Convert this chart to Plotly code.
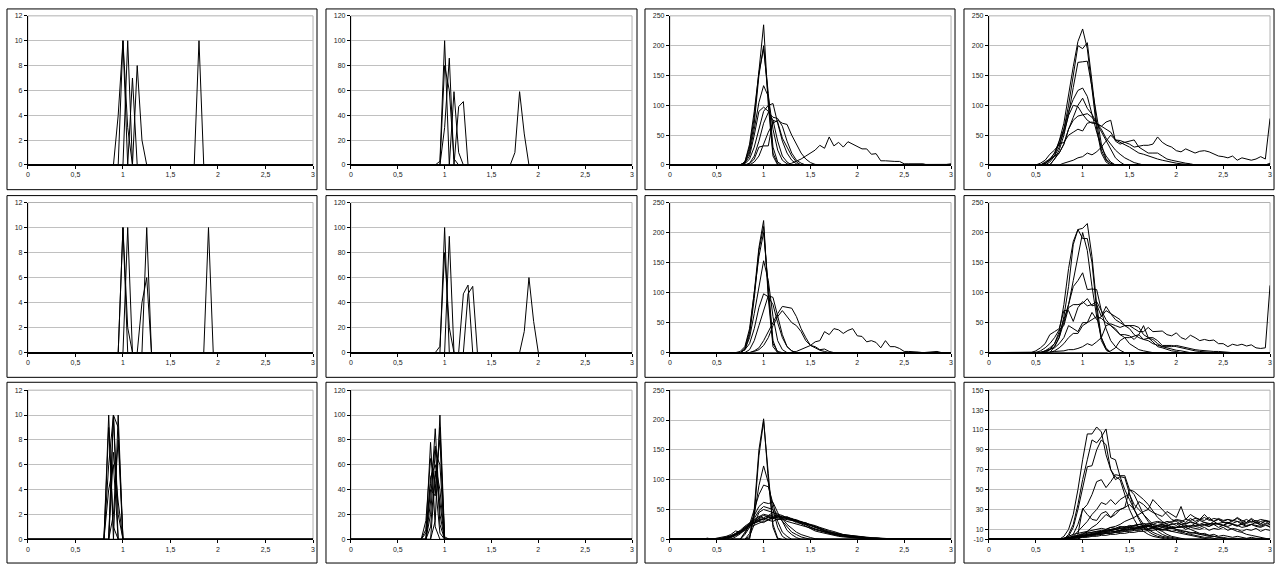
import plotly.graph_objects as go

# ---------------- data ----------------
X = [round(i * 0.05, 2) for i in range(61)]          # category axis 0 .. 3 step 0.05
X_TICKS = [0, 0.5, 1, 1.5, 2, 2.5, 3]
X_TICKTEXT = ["0", "0,5", "1", "1,5", "2", "2,5", "3"]

# each series: (first x, values from that x on) ; zero elsewhere
P_R1C1 = [
    (0.95, [0, 10, 0]),
    (1.00, [0, 10, 0]),
    (0.95, [4, 10, 3, 0]),
    (1.05, [0, 7, 0]),
    (1.10, [0, 8, 2, 0]),
    (1.75, [0, 10, 0]),
]
P_R1C2 = [
    (0.90, [0, 3, 100, 0]),
    (0.95, [0, 30, 86, 0]),
    (0.95, [0, 80, 60, 5, 0]),
    (1.05, [0, 59, 10, 0]),
    (1.10, [0, 47, 51, 0]),
    (1.70, [0, 10, 59, 25, 0]),
]
P_R1C3 = [
    (0.75, [0, 5, 30, 80, 160, 235, 100, 15, 0]),
    (0.80, [3, 25, 70, 150, 200, 110, 20, 2, 0]),
    (0.80, [5, 35, 90, 155, 195, 120, 30, 5, 0]),
    (0.80, [5, 20, 60, 105, 133, 115, 60, 25, 8, 2, 0]),
    (0.80, [3, 15, 50, 90, 97, 90, 75, 40, 15, 5, 0]),
    (0.80, [2, 10, 30, 60, 90, 100, 103, 70, 40, 20, 8, 2, 0]),
    (0.85, [3, 15, 40, 70, 88, 80, 78, 65, 40, 20, 8, 3, 0]),
    (0.90, [5, 15, 35, 55, 70, 75, 70, 68, 50, 35, 20, 10, 4, 1, 0]),
    (0.85, [2, 10, 30, 32, 32, 75, 72, 45, 30, 15, 5, 0]),
    (1.30, [3, 6, 10, 15, 20, 25, 33, 28, 47, 32, 38, 30, 39, 35, 30, 27, 27, 18, 19, 7, 7,
            6, 6, 6, 2, 2, 2, 3, 2, 0]),
    (2.80, [0, 1, 0, 1, 2]),
]
P_R1C4 = [
    (0.55, [0, 2, 8, 20, 40, 70, 120, 165, 207, 228, 195, 130, 60, 20, 5, 0]),
    (0.60, [0, 5, 15, 30, 60, 100, 150, 200, 195, 205, 140, 70, 25, 8, 2, 0]),
    (0.65, [0, 10, 25, 50, 85, 130, 172, 173, 174, 130, 80, 35, 10, 3, 0]),
    (0.55, [0, 3, 8, 15, 40, 60, 90, 110, 125, 129, 115, 85, 55, 30, 15, 5, 0]),
    (0.65, [0, 10, 20, 35, 60, 80, 100, 112, 95, 85, 70, 55, 40, 25, 12, 5, 0]),
    (0.50, [0, 3, 8, 18, 25, 35, 55, 83, 100, 98, 85, 75, 70, 70, 60, 45, 35, 25, 18, 12, 8,
            4, 2, 0]),
    (0.55, [0, 5, 10, 15, 20, 35, 60, 75, 82, 84, 86, 80, 70, 65, 60, 55, 42, 38, 35, 30, 25,
            20, 18, 15, 12, 10, 8, 6, 4, 3, 2, 1, 0]),
    (0.55, [0, 3, 10, 20, 35, 38, 50, 55, 60, 57, 70, 72, 68, 65, 72, 75, 40, 35, 38, 40, 42,
            30, 25, 20, 20, 20, 15, 10, 8, 6, 4, 3, 2, 0]),
    (0.75, [0, 3, 5, 8, 12, 14, 20, 17, 22, 30, 40, 50, 42, 41, 38, 35, 30, 32, 33, 33, 35,
            47, 38, 33, 30, 24, 22, 27, 23, 20, 23, 24, 22, 18, 15, 14, 12, 15, 8, 12, 10,
            8, 10, 14, 10, 78]),
    (0.35, [0, 1, 1, 1, 0]),
    (2.75, [0, 1, 0, 1, 0, 3]),
]
P_R2C1 = [
    (0.95, [0, 10, 0]),
    (0.95, [0, 10, 2, 0]),
    (1.00, [0, 10, 0]),
    (1.15, [0, 4, 6, 0]),
    (1.20, [0, 10, 0]),
    (1.85, [0, 10, 0]),
]
P_R2C2 = [
    (0.95, [0, 100, 0]),
    (0.90, [0, 5, 80, 20, 0]),
    (1.00, [0, 93, 0]),
    (1.15, [0, 47, 54, 0]),
    (1.20, [0, 47, 53, 0]),
    (1.80, [0, 17, 60, 25, 0]),
]
P_R2C3 = [
    (0.75, [2, 10, 40, 100, 175, 220, 90, 10, 0]),
    (0.80, [5, 30, 90, 170, 210, 100, 15, 2, 0]),
    (0.80, [8, 35, 100, 160, 200, 110, 20, 0]),
    (0.80, [5, 25, 65, 110, 153, 120, 60, 20, 5, 0]),
    (0.80, [5, 15, 40, 75, 98, 93, 80, 50, 25, 10, 3, 0]),
    (0.85, [5, 20, 45, 70, 95, 92, 60, 30, 10, 3, 0]),
    (0.90, [3, 8, 20, 35, 50, 65, 77, 75, 74, 60, 40, 25, 12, 8, 4, 2, 0]),
    (0.90, [2, 5, 12, 25, 45, 60, 70, 60, 50, 45, 35, 20, 12, 10, 5, 6, 2, 0]),
    (1.35, [2, 5, 8, 12, 18, 20, 35, 30, 40, 38, 32, 37, 40, 28, 27, 18, 20, 17, 8, 20, 10,
            10, 7, 2, 2, 2, 1, 0, 1, 2, 2, 0]),
]
P_R2C4 = [
    (0.55, [0, 2, 5, 10, 25, 60, 110, 180, 205, 207, 215, 160, 80, 25, 5, 0]),
    (0.60, [0, 5, 15, 35, 80, 140, 185, 205, 190, 190, 150, 70, 20, 5, 0]),
    (0.65, [0, 10, 25, 50, 80, 120, 160, 200, 170, 110, 60, 25, 8, 0]),
    (0.55, [0, 3, 8, 15, 30, 55, 80, 110, 120, 133, 105, 106, 105, 70, 40, 20, 10, 4, 0]),
    (0.45, [0, 3, 8, 15, 30, 35, 40, 70, 70, 52, 75, 85, 78, 80, 85, 70, 55, 45, 40, 30, 25,
            15, 10, 5, 3, 1, 0]),
    (0.50, [0, 3, 8, 15, 25, 38, 45, 75, 80, 80, 82, 90, 78, 80, 60, 70, 65, 55, 50, 45, 40,
            30, 25, 22, 24, 22, 15, 10, 8, 5, 4, 3, 1, 0]),
    (0.55, [0, 3, 5, 8, 15, 25, 45, 40, 35, 50, 50, 67, 55, 60, 77, 65, 60, 55, 45, 45, 45,
            42, 30, 25, 25, 20, 12, 12, 12, 10, 8, 6, 5, 3, 2, 1, 0]),
    (0.65, [0, 3, 8, 15, 25, 32, 32, 45, 50, 55, 60, 57, 50, 45, 38, 30, 30, 28, 22, 30, 45,
            25, 18, 10, 8, 5, 3, 2, 0]),
    (0.35, [0, 1, 1, 1, 1, 1, 1, 2, 2, 3, 5, 5, 7, 10, 15, 12, 18, 25, 45, 48, 45, 42, 45, 45,
            40, 35, 35, 42, 35, 36, 36, 30, 28, 33, 25, 22, 29, 25, 20, 22, 20, 21, 15, 15, 10,
            14, 12, 14, 11, 13, 8, 7, 8, 112]),
    (1.25, [0, 3, 8, 20, 25, 25, 28, 30, 22, 20, 15, 12, 10, 10, 10, 12, 10, 8, 6, 5, 4, 3,
            3, 2, 2, 1, 0]),
]
P_R3C1 = [
    (0.80, [0, 10, 0]),
    (0.85, [0, 10, 0]),
    (0.90, [0, 10, 0]),
    (0.80, [0, 9, 1, 0]),
    (0.85, [0, 7, 3, 0]),
    (0.80, [0, 4, 6, 0]),
    (0.85, [0, 2, 8, 0]),
    (0.80, [0, 6, 10, 2, 0]),
    (0.85, [0, 10, 9, 0]),
]
P_R3C2 = [
    (0.75, [0, 5, 78, 10, 0]),
    (0.80, [0, 30, 89, 20, 0]),
    (0.85, [0, 15, 100, 2, 0]),
    (0.80, [0, 50, 60, 40, 0]),
    (0.75, [0, 15, 65, 45, 5, 0]),
    (0.80, [0, 20, 70, 60, 0]),
    (0.80, [0, 40, 35, 90, 0]),
    (0.85, [0, 50, 80, 0]),
    (0.80, [0, 10, 55, 30, 0]),
    (0.75, [0, 8, 45, 75, 12, 0]),
]
P_R3C3 = [
    (0.85, [0, 50, 150, 202, 100, 20, 0]),
    (0.85, [2, 40, 140, 198, 110, 25, 2, 0]),
    (0.80, [0, 10, 40, 90, 123, 95, 50, 20, 5, 0]),
    (0.75, [0, 10, 25, 50, 75, 91, 88, 60, 30, 12, 5, 0]),
    (0.75, [0, 12, 25, 40, 55, 62, 60, 62, 45, 30, 15, 8, 3, 0]),
    (0.75, [0, 8, 20, 35, 48, 55, 52, 50, 42, 35, 25, 18, 12, 8, 5, 3, 1, 0]),
    (0.80, [0, 5, 25, 45, 50, 48, 45, 40, 30, 20, 12, 8, 4, 2, 0]),
    (0.35, [0, 2, 0, 2, 3, 5, 8, 14, 12, 20, 26, 30, 35, 32, 38, 36, 40, 38, 35, 33, 30, 28,
            24, 20, 17, 15, 12, 10, 8, 7, 5, 4, 4, 3, 2, 2, 1, 2, 1, 0]),
    (0.45, [0, 1, 2, 4, 6, 10, 15, 22, 28, 33, 38, 42, 40, 45, 42, 40, 36, 34, 30, 26, 22,
            18, 14, 12, 10, 8, 7, 5, 4, 3, 3, 2, 2, 1, 1, 0]),
    (0.50, [0, 1, 3, 5, 9, 14, 19, 25, 29, 33, 35, 33, 37, 38, 36, 37, 34, 32, 29, 27, 23,
            20, 18, 14, 12, 10, 8, 7, 6, 5, 4, 3, 3, 2, 2, 1, 1, 1, 0]),
    (0.55, [0, 2, 4, 8, 13, 18, 22, 27, 30, 28, 33, 35, 33, 35, 33, 32, 30, 29, 25, 24, 21,
            18, 15, 12, 11, 9, 7, 6, 5, 4, 4, 3, 2, 2, 1, 1, 1, 1, 0]),
    (0.45, [0, 1, 1, 3, 5, 7, 11, 17, 22, 28, 36, 40, 38, 41, 39, 37, 35, 32, 28, 27, 25,
            20, 17, 15, 13, 11, 9, 7, 5, 5, 3, 3, 2, 2, 1, 1, 0]),
    (0.55, [0, 2, 3, 6, 10, 15, 20, 24, 27, 30, 32, 30, 34, 33, 35, 33, 31, 30, 28, 26, 23,
            20, 17, 15, 13, 10, 8, 7, 6, 5, 4, 3, 3, 2, 2, 1, 1, 1, 1, 0]),
    (0.65, [0, 4, 9, 16, 24, 32, 38, 36, 40, 38, 36, 34, 30, 28, 26, 24, 21, 19, 16, 14, 11,
            9, 8, 6, 5, 4, 3, 3, 2, 1, 0]),
    (0.50, [0, 2, 3, 6, 10, 13, 20, 25, 27, 32, 34, 36, 35, 37, 39, 36, 35, 31, 30, 26, 23,
            19, 16, 14, 11, 9, 8, 6, 5, 4, 4, 3, 2, 2, 1, 1, 0]),
    (0.60, [0, 3, 7, 12, 18, 23, 27, 31, 34, 37, 35, 39, 36, 38, 34, 33, 29, 28, 24, 22, 19,
            16, 13, 11, 9, 8, 6, 5, 4, 3, 3, 2, 2, 1, 0]),
]
P_R3C4 = [
    (0.75, [0, 3, 10, 25, 50, 80, 106, 106, 113, 108, 85, 70, 63, 60, 45, 30, 20, 12, 8, 5,
            3, 2, 1, 0]),
    (0.80, [0, 5, 15, 35, 60, 80, 100, 97, 103, 111, 82, 80, 63, 62, 45, 30, 20, 12, 8, 5,
            3, 2, 1, 0]),
    (0.80, [0, 3, 12, 30, 50, 73, 74, 90, 100, 95, 70, 60, 63, 50, 40, 30, 22, 15, 10, 7, 5,
            3, 2, 1, 0]),
    (0.85, [0, 5, 15, 30, 35, 45, 58, 60, 52, 58, 65, 64, 64, 50, 45, 35, 25, 18, 12, 8, 5,
            3, 2, 1, 0]),
    (0.85, [0, 3, 8, 12, 18, 25, 30, 37, 35, 40, 35, 40, 43, 45, 35, 30, 25, 20, 15, 10, 8,
            5, 3, 2, 1, 0]),
    (0.90, [0, 5, 31, 25, 20, 19, 26, 28, 22, 25, 30, 32, 50, 48, 44, 40, 35, 28, 22, 18, 15,
            12, 10, 8, 6, 5, 4, 3, 2, 2, 1, 0]),
    (0.95, [0, 5, 8, 12, 15, 20, 25, 22, 28, 30, 32, 35, 30, 38, 35, 30, 40, 35, 30, 25, 20,
            18, 15, 12, 10, 8, 6, 5, 4, 3, 2, 1, 0]),
    (0.95, [0, 3, 4, 5, 6, 8, 10, 12, 13, 15, 18, 20, 22, 25, 28, 30, 27, 25, 23, 28, 25,
            22, 33, 20, 25, 22, 20, 25, 20, 18, 15, 14, 12, 10, 8, 7, 5, 4, 3, 2, 1]),
    (0.75, [0, 1, 2, 2, 3, 4, 4, 5, 6, 6, 7, 8, 8, 9, 10, 9, 10, 11, 12, 11, 12, 13, 12, 14,
            13, 12, 15, 14, 13, 16, 14, 15, 13, 16, 15, 14, 17, 15, 13, 16, 14, 15, 17, 14,
            16, 15]),
    (0.75, [0, 0, 1, 2, 3, 3, 4, 5, 5, 6, 7, 7, 8, 9, 8, 10, 11, 10, 12, 13, 12, 14, 15, 13,
            16, 14, 17, 15, 18, 16, 19, 17, 15, 18, 20, 17, 16, 19, 18, 15, 17, 20, 16, 18,
            19, 17]),
    (0.75, [0, 1, 1, 2, 2, 3, 3, 4, 5, 5, 6, 6, 7, 7, 8, 8, 9, 9, 10, 10, 11, 10, 12, 11,
            12, 12, 13, 12, 14, 13, 12, 14, 13, 15, 12, 14, 13, 15, 14, 12, 13, 15, 13, 12,
            14, 13]),
    (0.75, [0, 0, 1, 1, 2, 2, 3, 4, 4, 5, 6, 6, 7, 8, 9, 10, 11, 12, 13, 14, 15, 14, 13, 12,
            11, 10, 9, 8, 7, 6, 5, 4, 3, 3, 2, 2, 1, 1, 1, 0]),
    (0.75, [0, 1, 2, 3, 4, 5, 6, 7, 8, 8, 9, 10, 11, 12, 13, 12, 14, 15, 16, 15, 17, 18, 17,
            16, 18, 20, 19, 17, 21, 18, 20, 19, 22, 18, 21, 19, 20, 18, 22, 19, 17, 21, 18,
            20, 19, 18]),
    (0.75, [0, 0, 1, 2, 2, 3, 4, 5, 6, 7, 8, 9, 10, 9, 11, 12, 11, 13, 12, 14, 13, 12, 14,
            13, 11, 12, 13, 10, 12, 11, 10, 12, 9, 11, 10, 12, 9, 11, 10, 8, 10, 9, 11, 8,
            10, 9]),
    (0.75, [0, 1, 1, 2, 3, 4, 5, 6, 7, 8, 8, 9, 10, 11, 12, 13, 14, 15, 14, 13, 12, 11, 10,
            9, 8, 7, 6, 5, 4, 3, 2, 1, 0]),
    (0.75, [0, 0, 0, 1, 1, 2, 2, 3, 3, 4, 4, 5, 5, 6, 6, 7, 7, 8, 8, 9, 9, 10, 10, 11, 11,
            12, 12, 13, 13, 14, 14, 15, 15, 16, 16, 17, 17, 16, 18, 17, 16, 18, 17, 15, 19,
            17]),
    (0.75, [0, 1, 3, 5, 6, 7, 8, 9, 10, 11, 10, 12, 11, 13, 12, 14, 13, 15, 14, 16, 15, 17,
            16, 18, 17, 19, 18, 20, 19, 21, 20, 22, 19, 21, 20, 18, 20, 19, 21, 18, 20, 17,
            19, 16, 18, 15]),
    (0.75, [0, 0, 1, 3, 4, 6, 7, 7, 8, 9, 9, 10, 10, 11, 11, 12, 12, 13, 13, 14, 13, 14, 15,
            14, 15, 16, 15, 16, 17, 16, 15, 17, 16, 15, 16, 14, 16, 15, 14, 15, 13, 15, 14,
            13, 15, 12]),
    (0.80, [0, 1, 2, 3, 4, 5, 5, 6, 7, 8, 9, 8, 9, 10, 11, 10, 12, 11, 10, 12, 11, 9, 10, 8,
            9, 7, 8, 6, 7, 5, 6, 4, 5, 3, 4, 3, 2, 3, 2, 1, 2, 1, 1, 0, 0]),
]

PANELS = [P_R1C1, P_R1C2, P_R1C3, P_R1C4,
          P_R2C1, P_R2C2, P_R2C3, P_R2C4,
          P_R3C1, P_R3C2, P_R3C3, P_R3C4]

Y_RANGES = [[0, 12], [0, 120], [0, 250], [0, 250],
            [0, 12], [0, 120], [0, 250], [0, 250],
            [0, 12], [0, 120], [0, 250], [0, 150]]
Y_TICKVALS = {
    12: [0, 2, 4, 6, 8, 10, 12],
    120: [0, 20, 40, 60, 80, 100, 120],
    250: [0, 50, 100, 150, 200, 250],
    150: [0, 10, 30, 50, 70, 90, 110, 130, 150],
}
Y_TICKTEXT_150 = ["-10", "10", "30", "50", "70", "90", "110", "130", "150"]

# ---------------- layout geometry (pixels) ----------------
W, H = 1284, 568
COL_PLOT = [(26, 312), (350, 632), (670, 952), (990, 1272)]
COL_BOX = [(5, 316), (325, 637), (645, 956), (965, 1276)]
ROW_PLOT = [(12, 163), (201, 353), (391, 542)]
ROW_BOX = [(5, 188), (194, 378), (383, 566)]


def full_series(start, vals):
    y = [0] * len(X)
    i0 = int(round(start / 0.05))
    for k, v in enumerate(vals):
        if 0 <= i0 + k < len(X):
            y[i0 + k] = v
    return y


fig = go.Figure()
font = dict(family="Arial, Liberation Sans, sans-serif", size=7, color="#222")
layout = dict(width=W, height=H, margin=dict(l=0, r=0, t=0, b=0),
              paper_bgcolor="white", plot_bgcolor="white", showlegend=False, font=font)
shapes = []

for idx, series in enumerate(PANELS):
    r, c = divmod(idx, 4)
    n = idx + 1
    xs = "" if n == 1 else str(n)
    x0, x1 = COL_PLOT[c]
    t, b = ROW_PLOT[r]
    for start, vals in series:
        fig.add_trace(go.Scatter(x=X, y=full_series(start, vals), mode="lines",
                                 line=dict(color="black", width=1),
                                 xaxis="x" + xs, yaxis="y" + xs, hoverinfo="skip"))
    yr = Y_RANGES[idx]
    ytv = Y_TICKVALS[yr[1]]
    ytt = Y_TICKTEXT_150 if yr[1] == 150 else [str(v) for v in ytv]
    layout["xaxis" + xs] = dict(domain=[x0 / W, x1 / W], anchor="y" + xs, range=[0, 3],
                                tickvals=X_TICKS, ticktext=X_TICKTEXT, showgrid=False,
                                zeroline=False, showline=True, linecolor="black", linewidth=1,
                                ticks="outside", ticklen=3, tickcolor="black",
                                tickfont=font, fixedrange=True)
    layout["yaxis" + xs] = dict(domain=[1 - b / H, 1 - t / H], anchor="x" + xs, range=yr,
                                tickvals=ytv, ticktext=ytt, showgrid=True,
                                gridcolor="#c0c0c0", gridwidth=1, zeroline=False,
                                showline=True, linecolor="black", linewidth=1,
                                ticks="outside", ticklen=3, tickcolor="black",
                                tickfont=font, fixedrange=True)
    # plot-area border (grey)
    shapes.append(dict(type="rect", xref="x" + xs + " domain", yref="y" + xs + " domain",
                       x0=0, x1=1, y0=0, y1=1, line=dict(color="#b0b0b0", width=1),
                       layer="below"))
    # chart-area border (black)
    bx0, bx1 = COL_BOX[c]
    by0, by1 = ROW_BOX[r]
    shapes.append(dict(type="rect", xref="paper", yref="paper",
                       x0=bx0 / W, x1=bx1 / W, y0=1 - by1 / H, y1=1 - by0 / H,
                       line=dict(color="black", width=1)))

layout["shapes"] = shapes
fig.update_layout(**layout)
fig.write_html("out.html")
